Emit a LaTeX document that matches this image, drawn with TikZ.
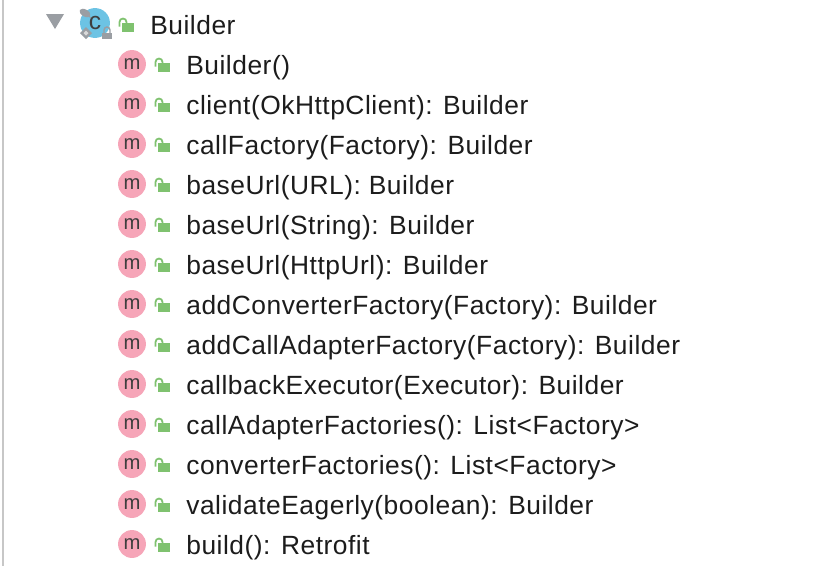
\documentclass[tikz,border=0pt]{standalone}
\usepackage{fontspec}
\setmainfont[LetterSpace=2]{Liberation Sans}
\usepackage{tikz}
\usetikzlibrary{positioning,calc}
\definecolor{methodpink}{HTML}{F6A5B8}
\definecolor{lockgreen}{HTML}{7FC26F}
\definecolor{classblue}{HTML}{6CC3E4}
\definecolor{markgray}{HTML}{9A9EA3}
\definecolor{textblack}{HTML}{1C1C1C}
\tikzset{
  itemtext/.style={anchor=base west,inner sep=0pt,text=textblack,font=\fontsize{15}{15}\selectfont},
  methodicon/.style={circle,fill=methodpink,minimum size=28*0.567pt,inner sep=0pt,text=textblack!85,font=\fontsize{11.5}{12}\selectfont},
  lockicon/.pic={
    \fill[lockgreen] (158,-2) rectangle (170,7);
    \draw[lockgreen,line width=1pt] (155.5,1.5) -- (155.5,-3) arc[start angle=180,end angle=360,radius=3.5] -- (162.5,-2);
  }
}
\begin{document}
\begin{tikzpicture}[x=0.02cm,y=-0.02cm]
\useasboundingbox (0,0) rectangle (830,566);
\fill[white] (0,0) rectangle (830,566);
\fill[black!22] (2,0) rectangle (4,566);
% header row
\fill[markgray] (46,14) -- (64,14) -- (55,29) -- cycle;
\node[circle,fill=classblue,minimum size=30*0.567pt,inner sep=0pt,text=textblack!85,font=\fontsize{14}{14}\selectfont] (classicon) at (95,23) {c};
\draw[markgray,line width=0.5pt] (85,13) -- (91,18);
\fill[markgray,rotate around={-30:(85,13)}] (85,13) ellipse (6 and 3.5);
\fill[markgray] (86,27) -- (92,33) -- (86,39) -- (80,33) -- cycle;
\fill[black!15] (86,30.5) -- (88.5,33) -- (86,35.5) -- (83.5,33) -- cycle;
\fill[markgray] (102,33) rectangle (112,39);
\draw[markgray,line width=0.8pt] (104,33) -- (104,30) arc[start angle=180,end angle=360,radius=3] -- (110,33);
\pic at (-36,25) {lockicon};
\node[itemtext] (classname) at (150,34) {Builder};
% method rows
\foreach \row/\label in {0/{Builder()},1/{client(OkHttpClient): Builder},2/{callFactory(Factory): Builder},3/{baseUrl(URL): Builder},4/{baseUrl(String): Builder},5/{baseUrl(HttpUrl): Builder},6/{addConverterFactory(Factory): Builder},7/{addCallAdapterFactory(Factory): Builder},8/{callbackExecutor(Executor): Builder},9/{callAdapterFactories(): List<Factory>},10/{converterFactories(): List<Factory>},11/{validateEagerly(boolean): Builder},12/{build(): Retrofit}}{
  \pgfmathsetmacro{\rowy}{65+40*\row}
  \node[methodicon] (method\row) at (132,\rowy-1) {m};
  \pic at (0,\rowy) {lockicon};
  \node[itemtext] (label\row) at (186,\rowy+9) {\label};
}
\end{tikzpicture}
\end{document}
